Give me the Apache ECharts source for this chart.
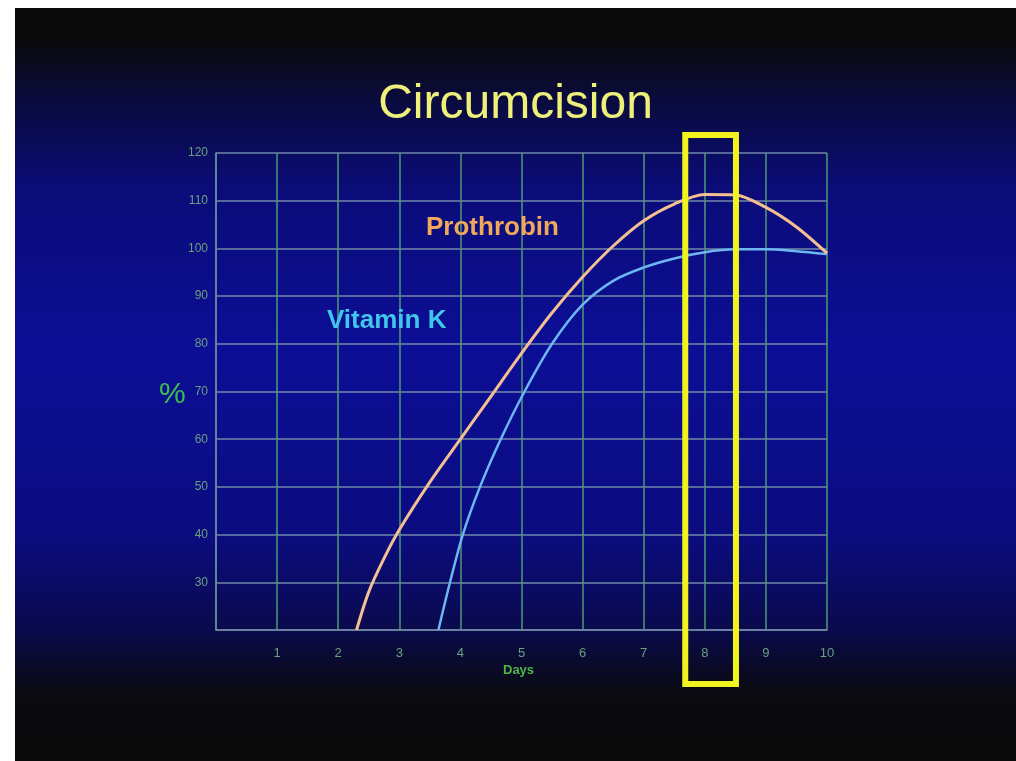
<!DOCTYPE html>
<html>
<head>
<meta charset="utf-8">
<script src="https://cdn.jsdelivr.net/npm/echarts@6/dist/echarts.min.js"></script>
<style>
  html, body { margin: 0; padding: 0; background: #fff; }
  #chart { position: absolute; left: 15px; top: 8px; width: 1001px; height: 753px; }
</style>
</head>
<body>
<div id="chart"></div>
<script>
// day / percent points
const prothrobin = [
  [2.3, 20], [2.5, 28], [2.75, 35], [3.0, 41], [3.5, 51], [4.0, 60],
  [4.5, 69], [5.0, 78], [5.5, 86.5], [6.0, 94], [6.5, 100.5], [7.0, 105.8],
  [7.5, 109.3], [8.0, 111.3], [8.5, 111.2], [9.0, 108.6], [9.5, 104.5], [10, 99]
];
const vitaminK = [
  [3.64, 20], [3.83, 30], [4.04, 40], [4.32, 50], [4.66, 60], [5.05, 70],
  [5.5, 80], [6.0, 88.2], [6.5, 93.2], [7.0, 96.0], [7.5, 97.9], [8.0, 99.2],
  [8.5, 99.8], [9.0, 99.8], [9.5, 99.4], [10, 98.8]
];
const dayTicks = [0, 10];      // x axis range, one tick per day
const percentTicks = [20, 120]; // y axis range, tick every 10
const highlightDays = [7.68, 8.51]; // yellow box round day 8

window.onload = function () {
  let chart = echarts.init(document.getElementById('chart'));

  let option = {
    backgroundColor: {
      type: 'linear', x: 0, y: 0, x2: 0, y2: 1,
      colorStops: [
        { offset: 0, color: '#0a0a0a' },
        { offset: 0.045, color: '#0a0a0c' },
        { offset: 0.12, color: '#0a0b3c' },
        { offset: 0.24, color: '#0b0c78' },
        { offset: 0.45, color: '#0c0e96' },
        { offset: 0.7, color: '#0b0c80' },
        { offset: 0.83, color: '#0a0a4a' },
        { offset: 0.91, color: '#0a0a10' },
        { offset: 1, color: '#0a0a0a' }
      ]
    },
    animation: false,
    grid: { left: 201, right: 189, top: 145, bottom: 131 },
    xAxis: {
      type: 'value',
      min: dayTicks[0],
      max: dayTicks[1],
      interval: 1,
      axisLine: { lineStyle: { color: '#7088a8', width: 1.5 } },
      axisTick: { show: false },
      axisLabel: {
        color: '#6aa07e', fontSize: 13, margin: 17,
        fontFamily: 'Liberation Sans',
        formatter: function (v) { return v === 0 ? '' : v; }
      },
      splitLine: { lineStyle: { color: '#4f9a72', width: 1.5 } }
    },
    yAxis: {
      type: 'value',
      min: percentTicks[0],
      max: percentTicks[1],
      interval: 10,
      axisLine: { show: true, lineStyle: { color: '#7088a8', width: 1.5 } },
      axisTick: { show: false },
      axisLabel: {
        color: '#6aa07e', fontSize: 12, margin: 8,
        fontFamily: 'Liberation Sans',
        formatter: function (v) { return v === 20 ? '' : v; }
      },
      splitLine: { lineStyle: { color: '#7088a8', width: 1.5 } }
    },
    series: [
      {
        name: 'Prothrobin',
        type: 'line',
        data: prothrobin,
        smooth: 0.3,
        showSymbol: false,
        lineStyle: { color: '#f4bf92', width: 3 },
        z: 3
      },
      {
        name: 'Vitamin K',
        type: 'line',
        data: vitaminK,
        smooth: 0.3,
        showSymbol: false,
        lineStyle: { color: '#6cb6f2', width: 2.5 },
        z: 2
      }
    ]
  };
  chart.setOption(option);

  // texts and the highlight box
  let x0 = chart.convertToPixel({ gridIndex: 0 }, [highlightDays[0], percentTicks[1]]);
  let x1 = chart.convertToPixel({ gridIndex: 0 }, [highlightDays[1], percentTicks[0]]);
  chart.setOption({
    graphic: [
      {
        type: 'text', left: 'center', top: 73,
        style: { text: 'Circumcision', fill: '#eef07a', font: '48px "Liberation Sans"' }
      },
      {
        type: 'text', x: 411, y: 207,
        style: { text: 'Prothrobin', fill: '#f0a85a', font: 'bold 26px "Liberation Sans"' }
      },
      {
        type: 'text', x: 312, y: 300,
        style: { text: 'Vitamin K', fill: '#3fc6ea', font: 'bold 26px "Liberation Sans"' }
      },
      {
        type: 'text', x: 144, y: 372,
        style: { text: '%', fill: '#3cc04c', font: '30px "Liberation Sans"' }
      },
      {
        type: 'text', x: 488, y: 656,
        style: { text: 'Days', fill: '#4cb848', font: 'bold 13px "Liberation Sans"' }
      },
      {
        type: 'rect', z: 10,
        shape: { x: x0[0], y: x0[1] - 18, width: x1[0] - x0[0], height: x1[1] - x0[1] + 72 },
        style: { fill: 'none', stroke: '#f2f21e', lineWidth: 6 }
      }
    ]
  });
};
</script>
</body>
</html>
